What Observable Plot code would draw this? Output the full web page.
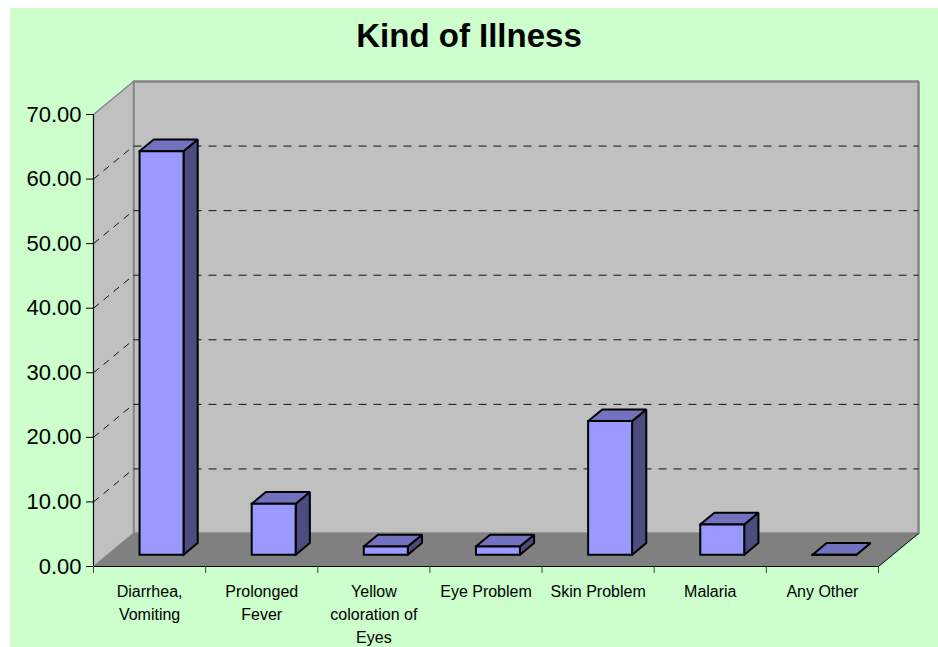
<!DOCTYPE html>
<html>
<head>
<meta charset="utf-8">
<script src="https://cdn.jsdelivr.net/npm/d3@7"></script>
<script src="https://cdn.jsdelivr.net/npm/@observablehq/plot@0.6"></script>
<style>
  body { margin: 0; background: #ffffff; }
  #panel { position: absolute; left: 10px; top: 8px; width: 928px; height: 639px; background: #CCFFCC;
           font-family: "Liberation Sans", Arial, sans-serif; overflow: hidden; }
  #title { position: absolute; left: 0; top: 0; width: 918px; height: 56px; line-height: 56px; text-align: center;
           font-weight: bold; font-size: 33px; color: #000; }
  #chart { position: absolute; left: 0; top: 62px; }
</style>
</head>
<body>
<div id="panel">
  <div id="title">Kind of Illness</div>
  <div id="chart"></div>
</div>
<script>
// ---- data ----
const categories = ["Diarrhea, Vomiting", "Prolonged Fever", "Yellow coloration of Eyes", "Eye Problem", "Skin Problem", "Malaria", "Any Other"];
const categoryLabels = ["Diarrhea,\nVomiting", "Prolonged\nFever", "Yellow\ncoloration of\nEyes", "Eye Problem", "Skin Problem", "Malaria", "Any Other"];
const values = [62.5, 7.9, 1.3, 1.3, 20.7, 4.7, 0];
const yTicks = [0, 10, 20, 30, 40, 50, 60, 70];
const gridValues = [10, 20, 30, 40, 50, 60];
const yMax = 70;

// ---- 3D projection helpers (depth d in [0,1] shifts right and up) ----
const n = categories.length;
const DX = 0.3567, DY = 5.11;          // depth offset in x-units / y-units
const F0 = 0.355, F1 = 0.71;           // bar front / back depth
const HALF = 0.196, SHIFT = -0.02;     // half bar width, center tweak
const P = (c, v, d) => ({x: c + d * DX, y: v + d * DY});
const poly = (id, pts) => [...pts, pts[0]].map(p => ({id, ...p}));

const backWall = poly("back", [P(0, 0, 1), P(n, 0, 1), P(n, yMax, 1), P(0, yMax, 1)]);
const leftWall = poly("left", [P(0, 0, 0), P(0, yMax, 0), P(0, yMax, 1), P(0, 0, 1)]);
const floor = poly("floor", [P(0, 0, 0), P(n, 0, 0), P(n, 0, 1), P(0, 0, 1)]);

const fronts = [], tops = [], sides = [];
values.forEach((v, i) => {
  const cx = i + 0.5 + SHIFT, x0 = cx - HALF, x1 = cx + HALF;
  fronts.push(...poly(i, [P(x0, 0, F0), P(x1, 0, F0), P(x1, v, F0), P(x0, v, F0)]));
  tops.push(...poly(i, [P(x0, v, F0), P(x1, v, F0), P(x1, v, F1), P(x0, v, F1)]));
  sides.push(...poly(i, [P(x1, 0, F0), P(x1, 0, F1), P(x1, v, F1), P(x1, v, F0)]));
});

const face = (data, fill, extra = {}) => Plot.line(data, {x: "x", y: "y", z: "id", fill, stroke: "#000", strokeWidth: 2,
  strokeLinejoin: "miter", strokeLinecap: "square", ...extra});

const chart = Plot.plot({
  width: 928,
  height: 577,
  marginLeft: 83,
  marginRight: 60,
  marginTop: 44,
  marginBottom: 81,
  x: {type: "linear", domain: [0, n], axis: null},
  y: {type: "linear", domain: [0, yMax], axis: null},
  style: {background: "none", color: "#000", fontFamily: '"Liberation Sans", Arial, sans-serif', overflow: "visible"},
  marks: [
    face(backWall, "#C0C0C0", {stroke: "#858585", strokeWidth: 2.5}),
    face(leftWall, "#C0C0C0", {stroke: "#858585", strokeWidth: 1.5}),
    face(floor, "#808080", {stroke: "none"}),
    // back wall gridlines
    Plot.link(gridValues, {x1: () => P(0, 0, 1).x, x2: () => P(n, 0, 1).x, y1: d => P(0, d, 1).y, y2: d => P(0, d, 1).y,
      stroke: "#111", strokeWidth: 1, strokeDasharray: "8,7"}),
    // side wall gridlines
    Plot.link(gridValues, {x1: () => P(0, 0, 0).x, x2: () => P(0, 0, 1).x, y1: d => P(0, d, 0).y, y2: d => P(0, d, 1).y,
      stroke: "#111", strokeWidth: 1, strokeDasharray: "7,6"}),
    // floor right edge
    Plot.link([0], {x1: () => P(n, 0, 0).x, x2: () => P(n, 0, 1).x, y1: () => P(n, 0, 0).y, y2: () => P(n, 0, 1).y,
      stroke: "#000", strokeWidth: 1}),
    // bars
    face(sides, "#4C4C80"),
    face(tops, "#7272BE"),
    face(fronts, "#9999FF"),
    // axes
    Plot.ruleX([0], {y1: 0, y2: yMax, stroke: "#000", strokeWidth: 1}),
    Plot.ruleY([0], {x1: 0, x2: n, stroke: "#000", strokeWidth: 1}),
    Plot.axisY({ticks: yTicks, tickFormat: d3.format(".2f"), tickSize: 7, tickPadding: 5, fontSize: 22, stroke: "#000", label: null}),
    Plot.axisX({ticks: d3.range(0, n + 1), tickFormat: () => "", tickSize: 7, stroke: "#444", label: null}),
    Plot.text(categoryLabels, {x: (d, i) => i + 0.5, y: () => 0, text: d => d, lineAnchor: "top", dy: 14,
      lineHeight: 1.45, fontSize: 16, fill: "#000"})
  ]
});
document.getElementById("chart").appendChild(chart);
</script>
</body>
</html>
